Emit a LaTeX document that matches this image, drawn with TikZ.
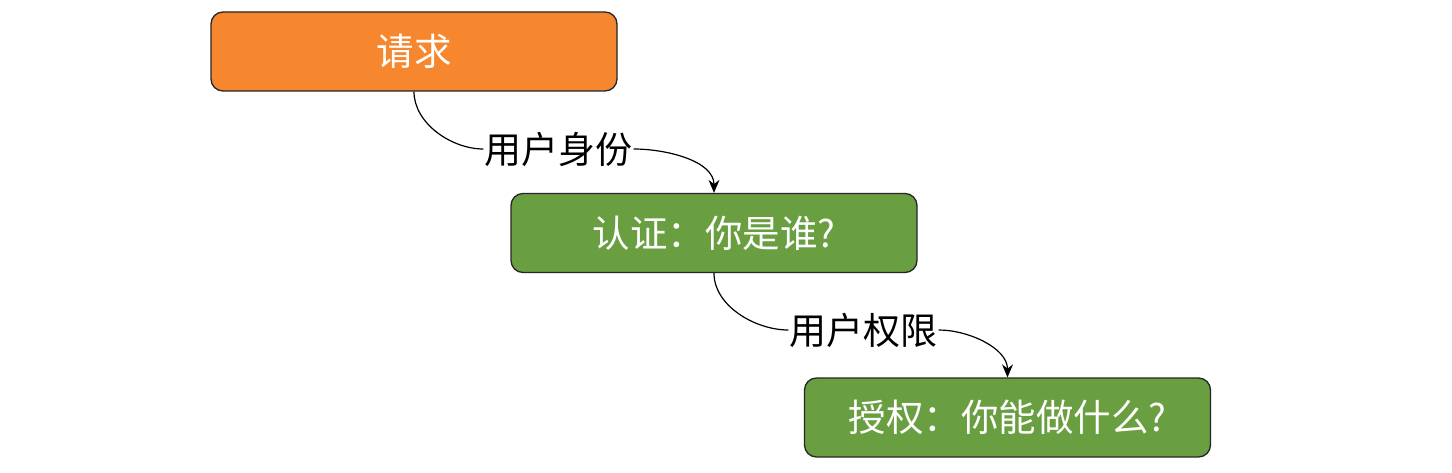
\documentclass[tikz,border=0pt]{standalone}
\usepackage{fontspec}
\newfontfamily\cjk{Noto Sans CJK SC}
\usetikzlibrary{arrows.meta}
\definecolor{boxorange}{HTML}{F7872E}
\definecolor{boxgreen}{HTML}{6A9F41}
\begin{document}
\begin{tikzpicture}[x=1pt,y=-1pt,
  flowbox/.style={draw=black!85, line width=1.3pt, rounded corners=12pt,
    minimum width=406pt, minimum height=79pt, text=white, font=\cjk\fontsize{37.5}{40}\selectfont},
  edgelabel/.style={inner sep=1pt, text=black, font=\cjk\fontsize{37}{40}\selectfont},
  conn/.style={line width=1.2pt, black}]
\useasboundingbox (0,0) rectangle (1452,473);
\fill[white] (0,0) rectangle (1452,473);
\node[flowbox, fill=boxorange] (req) at (414,51.5) {请求};
\node[flowbox, fill=boxgreen] (auth) at (714,233) {认证：你是谁?};
\node[flowbox, fill=boxgreen] (perm) at (1007.5,417.5) {授权：你能做什么?};
\node[edgelabel] (l1) at (558.5,149) {用户身份};
\node[edgelabel] (l2) at (863.5,330) {用户权限};
\draw[conn] (req.south) to[out=-90,in=180,looseness=0.9] (l1.west);
\draw[conn,-{Stealth[length=13pt,width=11pt]}] (l1.east) to[out=0,in=90,looseness=0.9] (auth.north);
\draw[conn] (auth.south) to[out=-90,in=180,looseness=0.9] (l2.west);
\draw[conn,-{Stealth[length=13pt,width=11pt]}] (l2.east) to[out=0,in=90,looseness=0.9] (perm.north);
\end{tikzpicture}
\end{document}
